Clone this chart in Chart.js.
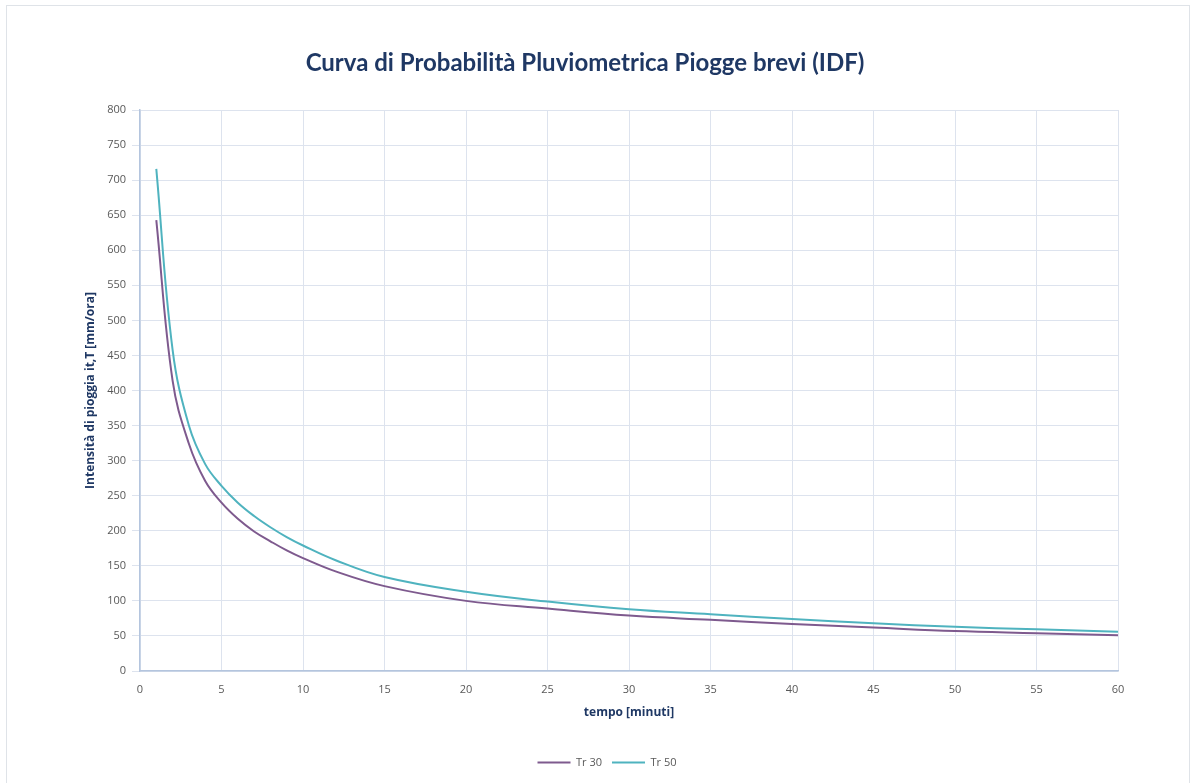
<!DOCTYPE html>
<html>
<head>
<meta charset="utf-8">
<script src="https://cdn.jsdelivr.net/npm/chart.js@4"></script>
<style>
  html, body { margin: 0; padding: 0; background: #ffffff; }
  #frame { position: absolute; left: 6px; top: 5px; width: 1182px; height: 790px; border: 1px solid #dfe3e8; }
  #wrap { position: absolute; left: 0; top: 0; width: 1198px; height: 783px; }
  #titolo {
    position: absolute; left: 285px; width: 600px; top: 47px;
    text-align: center; font: bold 24px Lato, sans-serif; color: #1f3864; margin: 0;
  }
</style>
</head>
<body>
<div id="frame"></div>
<div id="wrap"><canvas id="idf" width="1198" height="783"></canvas></div>
<h1 id="titolo"></h1>
<script>
// durate in minuti
const minuti = [1, 2, 3, 4, 5, 6, 7, 8, 9, 10, 12, 15, 20, 25, 30, 35, 40, 45, 50, 55, 60];
// intensità [mm/ora]
const tr30 = [643, 414, 324, 271, 240, 217, 199, 185, 172, 161, 142, 121, 100, 89, 79, 73, 67, 62, 57, 54, 51];
const tr50 = [716, 458, 350, 295, 264, 240, 221, 205, 191, 179, 158, 134, 113, 99, 88, 81, 74, 68, 63, 59.5, 56];
const serie = ["Tr 30", "Tr 50"];
const colori = ["#7e5a8e", "#4fb3bf"];

const titolo = "Curva di Probabilità Pluviometrica Piogge brevi (IDF)";
const titoloX = "tempo [minuti]";
const titoloY = "Intensità di pioggia it,T [mm/ora]";

document.getElementById("titolo").textContent = titolo;

function punti(vals) {
  return minuti.map((t, i) => ({ x: t, y: vals[i] }));
}

const navy = "#1f3864";
const grigio = "#595959";

new Chart(document.getElementById("idf"), {
  type: "line",
  data: {
    datasets: [tr30, tr50].map((vals, i) => ({
      label: serie[i],
      data: punti(vals),
      borderColor: colori[i],
      backgroundColor: colori[i],
      borderWidth: 2,
      pointRadius: 0,
      tension: 0.4
    }))
  },
  options: {
    responsive: false,
    animation: false,
    devicePixelRatio: 1,
    // il padding sinistro sposta la legenda verso il centro come nell'originale
    layout: { padding: { left: 96, right: 80, top: 110, bottom: 5 } },
    plugins: {
      title: { display: false },
      legend: {
        position: "bottom",
        labels: {
          usePointStyle: true,
          pointStyle: "line",
          pointStyleWidth: 33,
          color: grigio,
          font: { family: "Open Sans", size: 11 },
          padding: 10
        }
      },
      tooltip: { enabled: false }
    },
    scales: {
      x: {
        type: "linear",
        min: 0,
        max: 60,
        ticks: { stepSize: 5, color: grigio, font: { family: "Open Sans", size: 11 }, padding: 12 },
        grid: { color: "#dde3ee", drawTicks: false },
        border: { color: "#b4c5de", width: 1.5 },
        title: {
          display: true,
          text: titoloX,
          color: navy,
          font: { family: "Open Sans", size: 12, weight: "bold" },
          padding: { top: 0, bottom: 27 }
        },
        afterFit: (s) => { s.height = 76; }
      },
      y: {
        min: 0,
        max: 800,
        ticks: { stepSize: 50, color: grigio, font: { family: "Open Sans", size: 11 }, padding: 6 },
        grid: { color: "#dde3ee", tickLength: 8 },
        border: { color: "#b4c5de", width: 1.5 },
        title: {
          display: true,
          text: titoloY,
          color: navy,
          font: { family: "Open Sans", size: 12, weight: "bold" },
          padding: { top: -13, bottom: 0 }
        },
        afterFit: (s) => { s.width = 44; }
      }
    }
  }
});
</script>
</body>
</html>
